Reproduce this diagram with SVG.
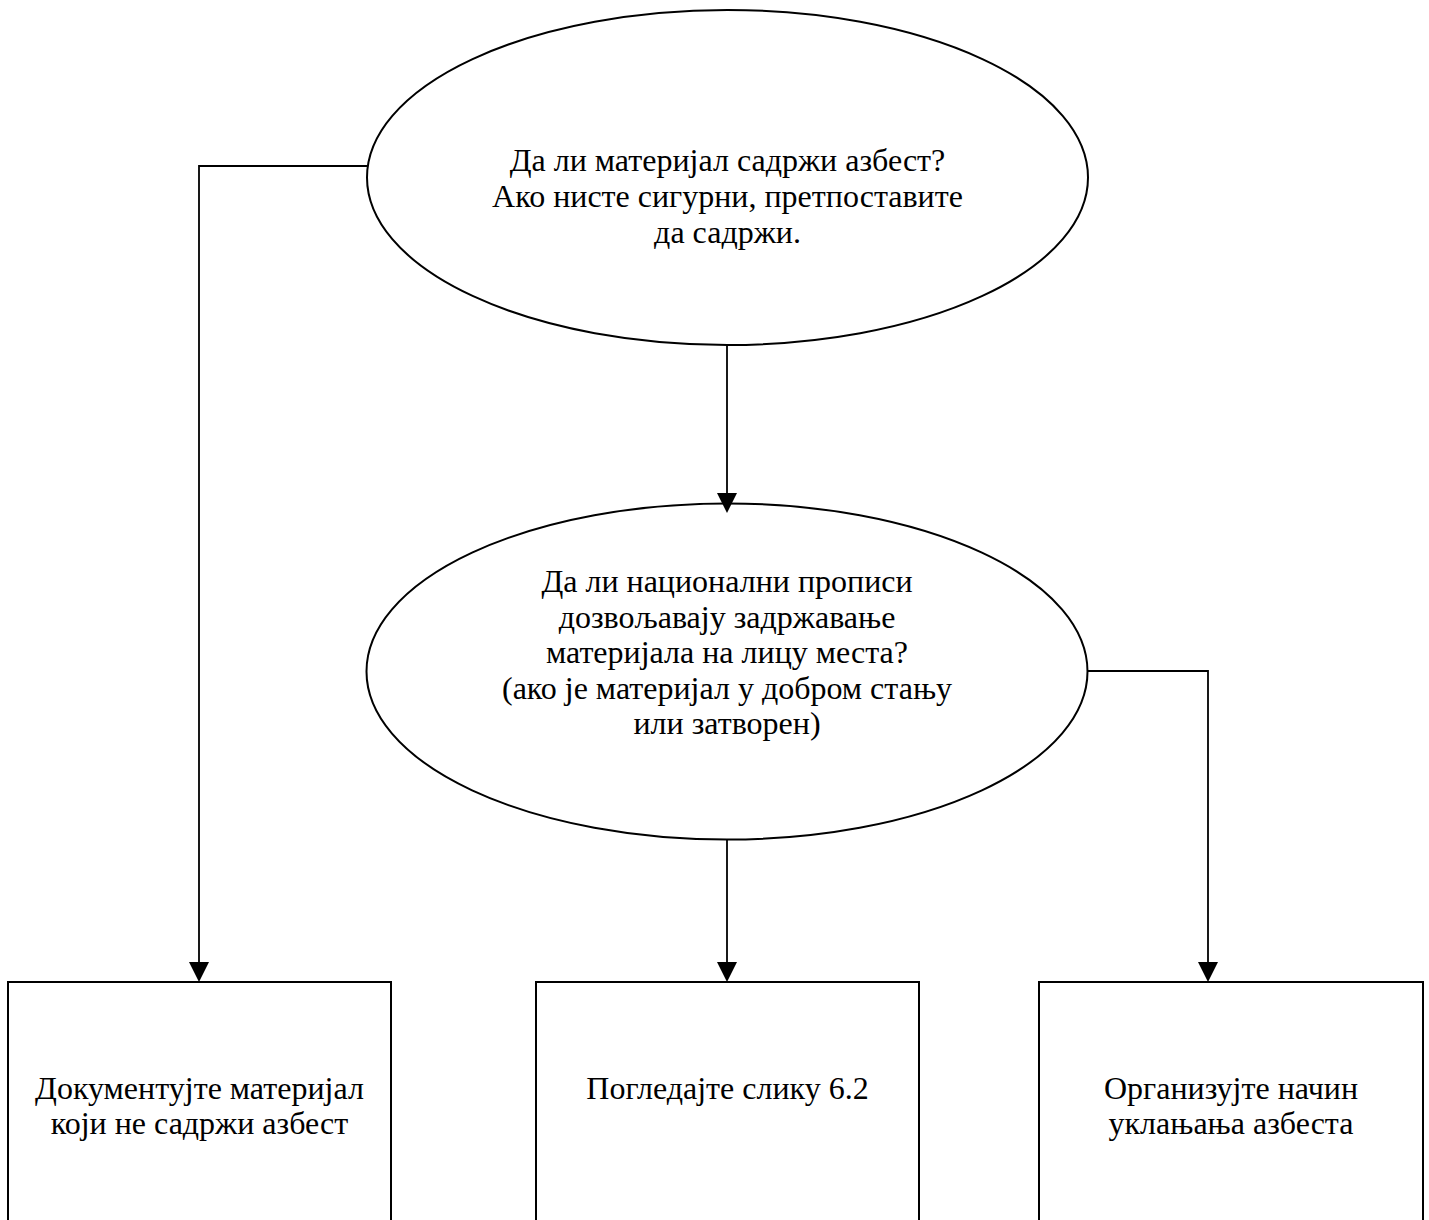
<svg xmlns="http://www.w3.org/2000/svg" width="1429" height="1220" viewBox="0 0 1429 1220">
<style>
.shape{fill:#fff;stroke:#000;stroke-width:2}
.conn{fill:none;stroke:#000;stroke-width:1.8}
.head{fill:#000;stroke:none}
text{font-family:"Liberation Serif","Times New Roman",serif;font-size:32px;fill:#000;text-anchor:middle}
</style>
<rect width="1429" height="1220" fill="#fff"/>
<g id="q1">
<ellipse class="shape" cx="727.5" cy="177.5" rx="360.5" ry="167.5"/>
<text x="727.5" y="171">Да ли материјал садржи азбест?</text>
<text x="727.5" y="207">Ако нисте сигурни, претпоставите</text>
<text x="727.5" y="243">да садржи.</text>
</g>
<g id="q2">
<ellipse class="shape" cx="727" cy="671.5" rx="360.5" ry="168"/>
<text x="727" y="592">Да ли национални прописи</text>
<text x="727" y="628">дозвољавају задржавање</text>
<text x="727" y="663">материјала на лицу места?</text>
<text x="727" y="699">(ако је материјал у добром стању</text>
<text x="727" y="734">или затворен)</text>
</g>
<g id="box1">
<rect class="shape" x="8" y="982" width="383" height="260"/>
<text x="199.5" y="1099">Документујте материјал</text>
<text x="199.5" y="1134">који не садржи азбест</text>
</g>
<g id="box2">
<rect class="shape" x="536" y="982" width="383" height="260"/>
<text x="727.5" y="1099">Погледајте слику 6.2</text>
</g>
<g id="box3">
<rect class="shape" x="1039" y="982" width="384" height="260"/>
<text x="1231" y="1099">Организујте начин</text>
<text x="1231" y="1134">уклањања азбеста</text>
</g>
<g id="connectors">
<path class="conn" d="M367,166 H199 V964"/>
<polygon class="head" points="189,962 209,962 199,982"/>
<path class="conn" d="M727,345 V495"/>
<polygon class="head" points="717,493 737,493 727,513"/>
<path class="conn" d="M727,840 V964"/>
<polygon class="head" points="717,962 737,962 727,982"/>
<path class="conn" d="M1087,671 H1208 V964"/>
<polygon class="head" points="1198,962 1218,962 1208,982"/>
</g>
</svg>
